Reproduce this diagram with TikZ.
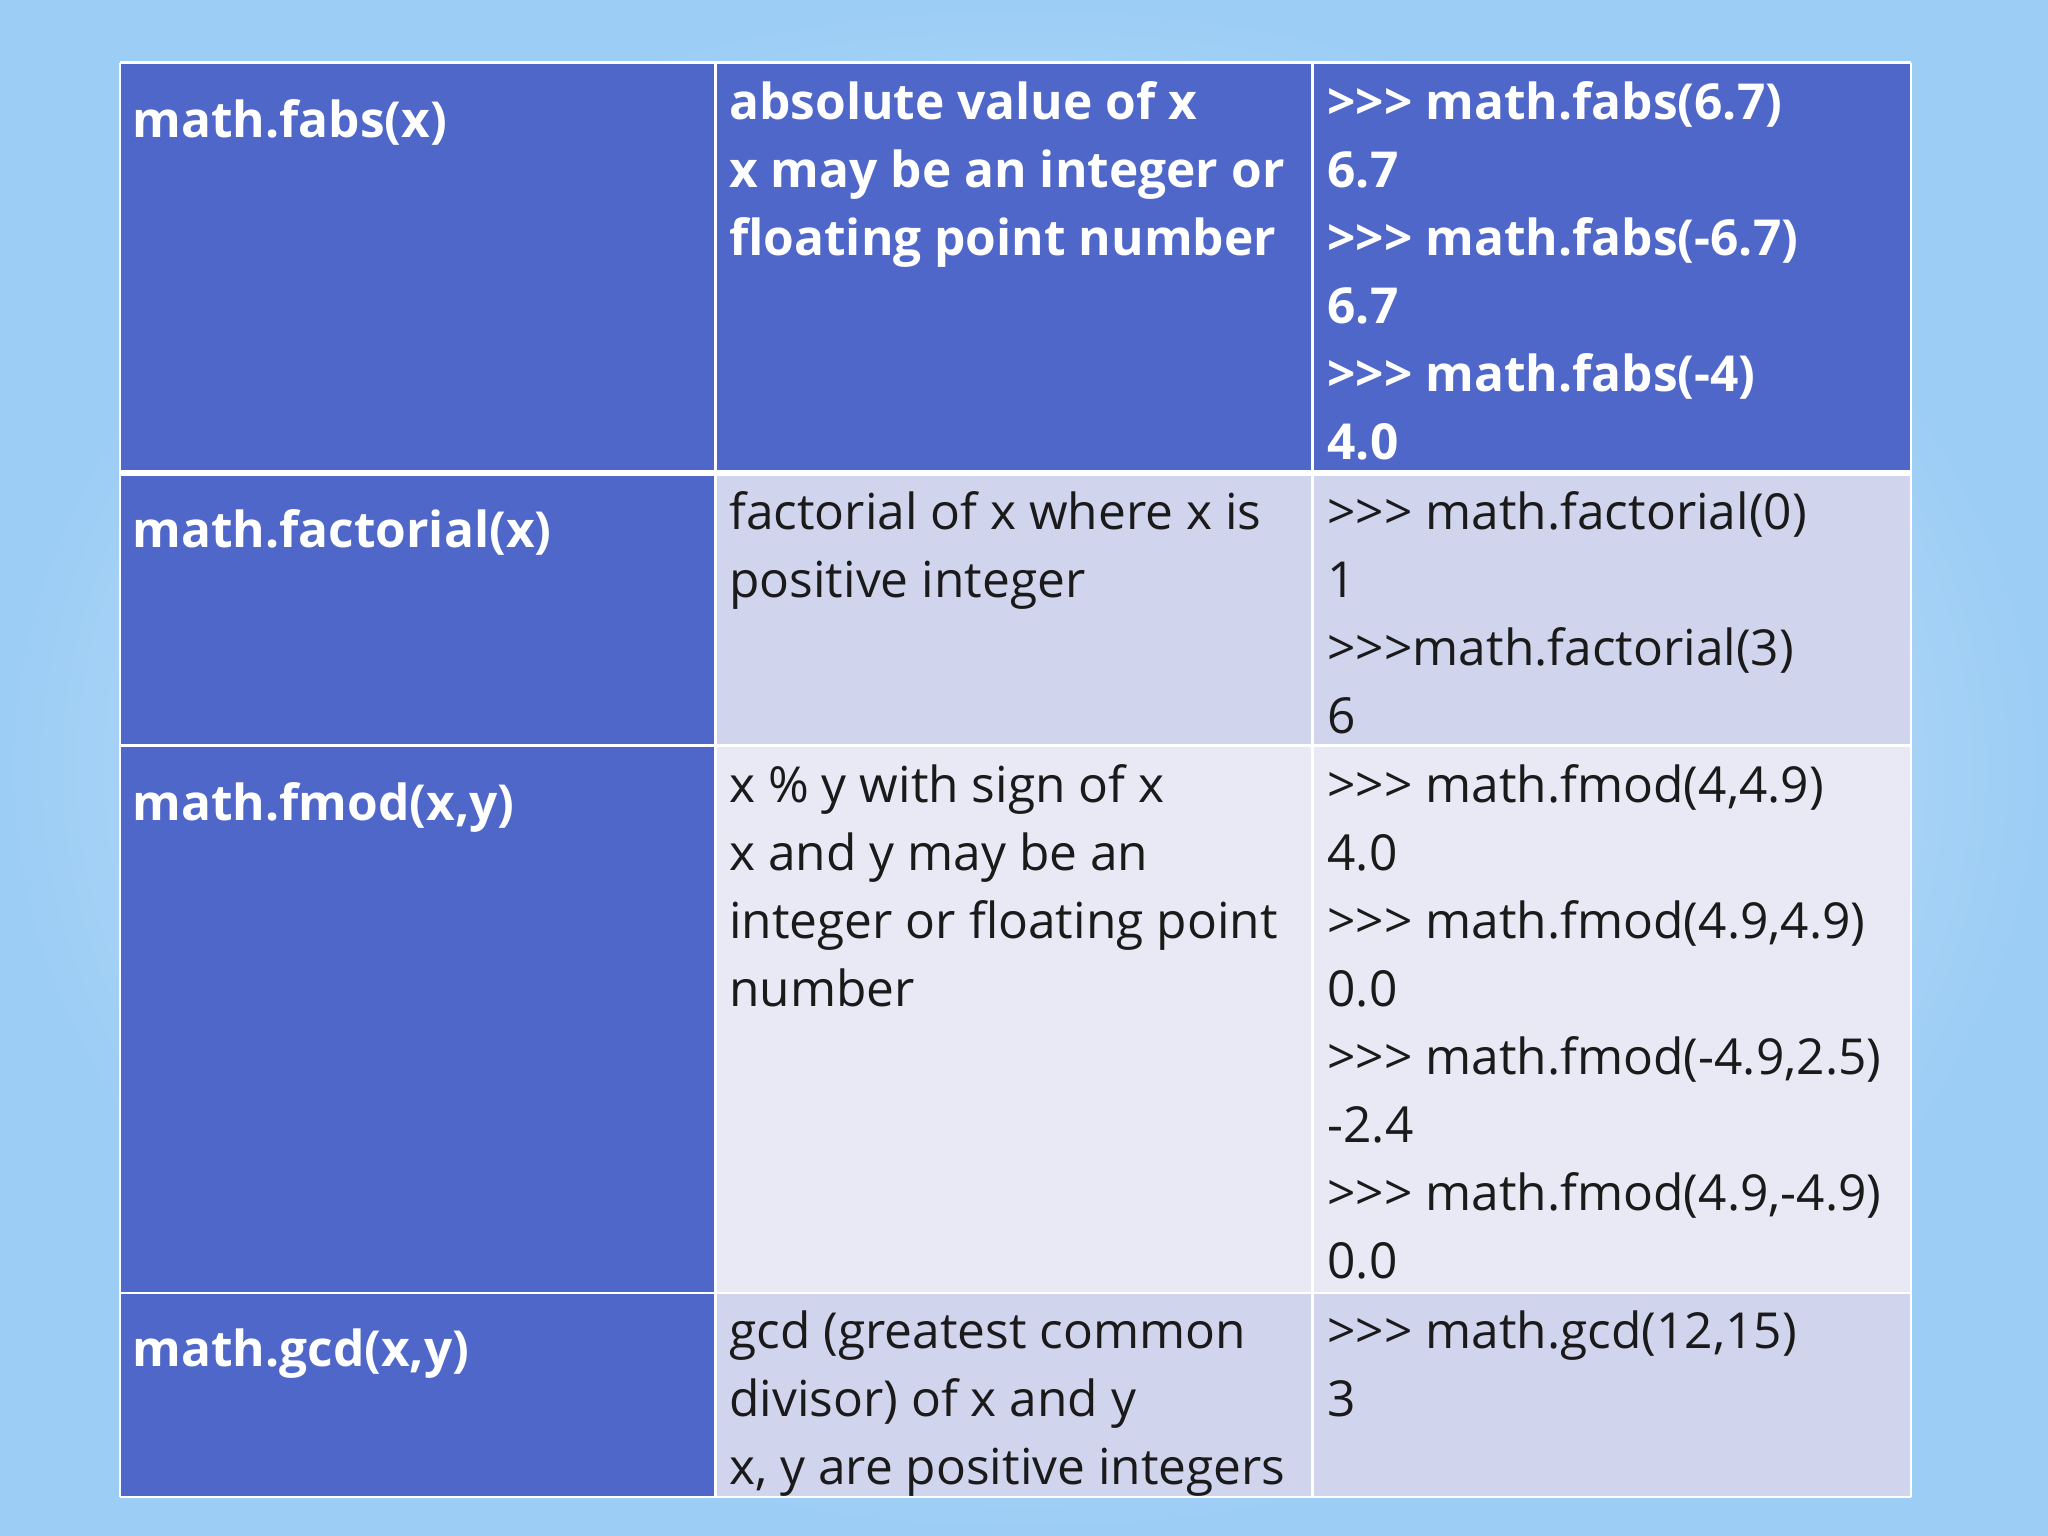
\documentclass[tikz,border=0pt]{standalone}
\usepackage{fontspec}
\setmainfont{Open Sans}
\definecolor{dblue}{HTML}{4F67C8}
\definecolor{lav}{HTML}{D0D4EC}
\definecolor{lav2}{HTML}{E8E9F4}
\definecolor{bgout}{HTML}{9CCDF5}
\definecolor{bgin}{HTML}{E6F3FC}
\definecolor{txt}{HTML}{1A1A1A}
\tikzset{
 cell/.style={draw=white, line width=1pt},
 hd/.style={anchor=north west, inner sep=0pt, align=left, text=white, font=\fontsize{19}{26}\selectfont\bfseries},
 tx/.style={anchor=north west, inner sep=0pt, align=left, text=txt, font=\fontsize{19}{26}\selectfont},
 tw/.style={anchor=north west, inner sep=0pt, align=left, text=white, font=\fontsize{19}{26}\selectfont\bfseries}
}
\begin{document}
\begin{tikzpicture}[x=0.5pt,y=-0.5pt]
\useasboundingbox (0,0) rectangle (1568,1176);
\shade[inner color=bgin, outer color=bgout] (0,0) rectangle (1568,1176);
% cells
\fill[dblue] (92,48) rectangle (1463,360);
\fill[dblue] (92,360) rectangle (548,1146);
\fill[lav] (548,360) rectangle (1463,571);
\fill[lav2] (548,571) rectangle (1463,990);
\fill[lav] (548,990) rectangle (1463,1146);
\foreach \x in {92,548,1005,1463} \draw[cell] (\x,48) -- (\x,1146);
\foreach \y in {48,571,990,1146} \draw[cell] (92,\y) -- (1463,\y);
\draw[white, line width=2.5pt] (92,362) -- (1463,362);
% text
\node[hd] (a1) at (101,76) {math.fabs(x)};
\node[tw] (a2) at (558,62) {absolute value of x\\x may be an integer or\\floating point number};
\node[tw] (a3) at (1016,62) {>{}>{}> math.fabs(6.7)\\6.7\\>{}>{}> math.fabs(-6.7)\\6.7\\>{}>{}> math.fabs(-4)\\4.0};
\node[hd] (b1) at (101,390) {math.factorial(x)};
\node[tx] (b2) at (558,376) {factorial of x where x is\\positive integer};
\node[tx] (b3) at (1016,376) {>{}>{}> math.factorial(0)\\1\\>{}>{}>math.factorial(3)\\6};
\node[hd] (c1) at (101,599) {math.fmod(x,y)};
\node[tx] (c2) at (558,585) {x \% y with sign of x\\x and y may be an\\integer or floating point\\number};
\node[tx] (c3) at (1016,585) {>{}>{}> math.fmod(4,4.9)\\4.0\\>{}>{}> math.fmod(4.9,4.9)\\0.0\\>{}>{}> math.fmod(-4.9,2.5)\\-2.4\\>{}>{}> math.fmod(4.9,-4.9)\\0.0};
\node[hd] (d1) at (101,1017) {math.gcd(x,y)};
\node[tx] (d2) at (558,1003) {gcd (greatest common\\divisor) of x and y\\x, y are positive integers};
\node[tx] (d3) at (1016,1003) {>{}>{}> math.gcd(12,15)\\3};
\end{tikzpicture}
\end{document}
